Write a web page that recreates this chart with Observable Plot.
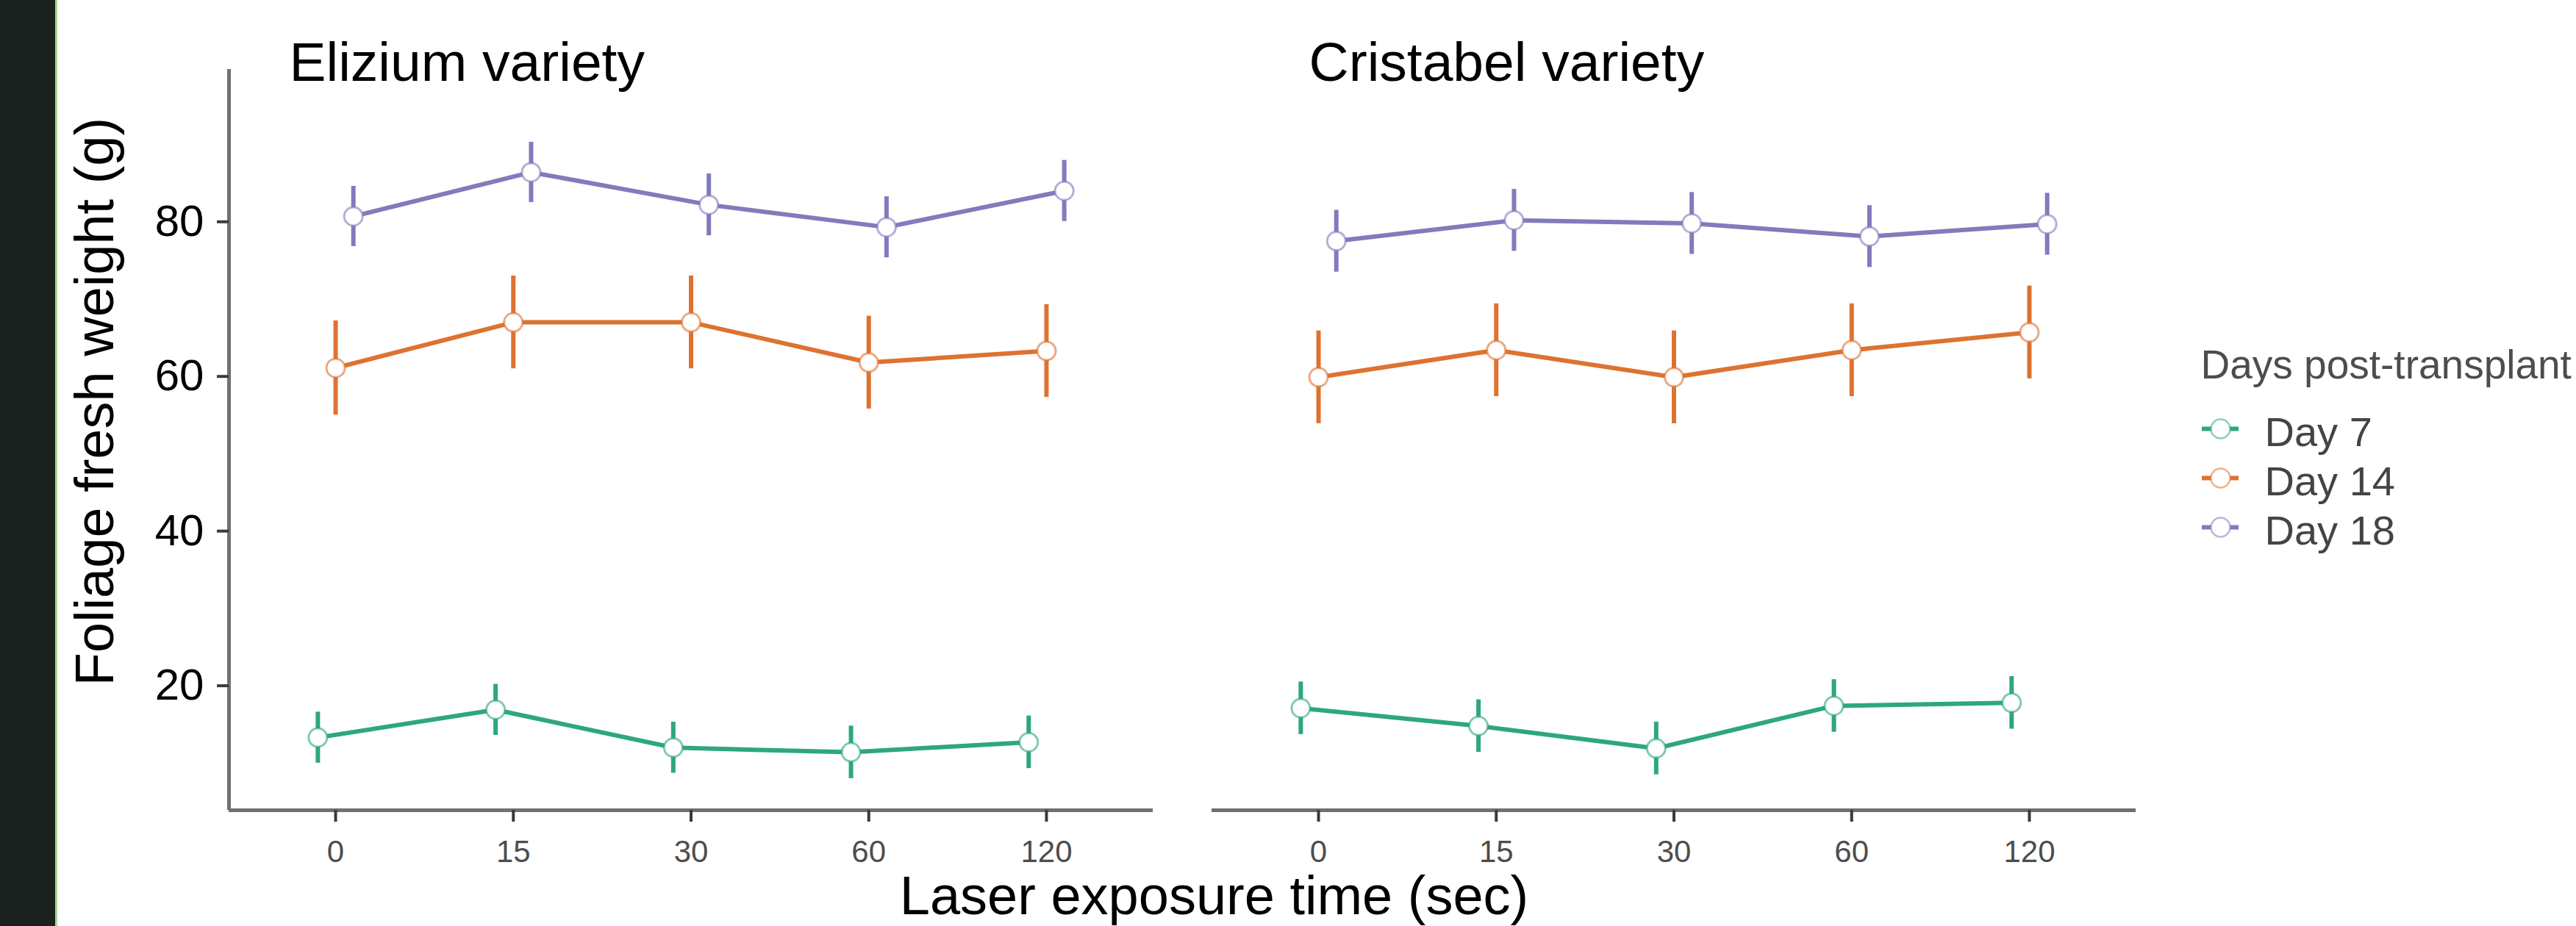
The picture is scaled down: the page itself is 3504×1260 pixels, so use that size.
<!DOCTYPE html>
<html>
<head>
<meta charset="utf-8">
<script src="https://cdn.jsdelivr.net/npm/d3@7"></script>
<script src="https://cdn.jsdelivr.net/npm/@observablehq/plot@0.6"></script>
<style>
  html, body { margin: 0; padding: 0; background: #ffffff; }
  #wrap { position: relative; width: 3504px; height: 1260px; overflow: hidden; background: #ffffff;
          font-family: "Liberation Sans", Arial, Helvetica, sans-serif; }
  #chart { position: absolute; left: 0; top: 0; }
  #legend { position: absolute; left: 2960px; top: 440px; }
  #strip { position: absolute; left: 0; top: 0; width: 75px; height: 1260px; background: #1b211e;
           border-right: 3px solid #a6d591; }
</style>
</head>
<body>
<div id="wrap">
  <div id="chart"></div>
  <div id="legend"></div>
  <div id="strip"></div>
</div>
<script>
// ---------- data ----------
const varieties = ["Elizium", "Cristabel"];
const panelTitles = ["Elizium variety", "Cristabel variety"];
const times = ["0", "15", "30", "60", "120"];
const days = ["Day 7", "Day 14", "Day 18"];
const dayColors = ["#2ea683", "#de7230", "#807cbc"];

const eliziumDay7 = [13.3, 16.9, 12.0, 11.4, 12.7];
const eliziumDay14 = [61.1, 67.0, 67.0, 61.8, 63.3];
const eliziumDay18 = [80.7, 86.4, 82.2, 79.3, 84.0];
const eliziumDay7SE = [3.3, 3.3, 3.3, 3.4, 3.4];
const eliziumDay14SE = [6.1, 6.0, 6.0, 6.0, 6.0];
const eliziumDay18SE = [3.9, 3.9, 4.0, 3.95, 3.95];

const cristabelDay7 = [17.1, 14.8, 11.9, 17.4, 17.8];
const cristabelDay14 = [59.9, 63.4, 59.9, 63.4, 65.7];
const cristabelDay18 = [77.5, 80.2, 79.8, 78.1, 79.7];
const cristabelDay7SE = [3.4, 3.4, 3.4, 3.4, 3.4];
const cristabelDay14SE = [6.0, 6.0, 6.0, 6.0, 6.0];
const cristabelDay18SE = [4.0, 4.0, 4.0, 4.0, 4.0];

const dodge = [-0.1, 0, 0.1];       // position_dodge offsets (in category units)
const xDomain = [-0.6, 4.6];        // discrete axis with 0.6 expansion
const yDomain = [3.9, 99.7];
const yTicks = [20, 40, 60, 80];

// ---------- table built from the arrays ----------
const series = [
  [varieties[0], days[0], eliziumDay7, eliziumDay7SE],
  [varieties[0], days[1], eliziumDay14, eliziumDay14SE],
  [varieties[0], days[2], eliziumDay18, eliziumDay18SE],
  [varieties[1], days[0], cristabelDay7, cristabelDay7SE],
  [varieties[1], days[1], cristabelDay14, cristabelDay14SE],
  [varieties[1], days[2], cristabelDay18, cristabelDay18SE]
];
const rows = [];
for (const [variety, day, means, ses] of series) {
  const di = days.indexOf(day);
  times.forEach((t, ti) => {
    rows.push({variety, day, time: t, xd: ti + dodge[di], mean: means[ti], lo: means[ti] - ses[ti], hi: means[ti] + ses[ti]});
  });
}

const FONT = '"Liberation Sans", Arial, Helvetica, sans-serif';

const chart = Plot.plot({
  width: 3504,
  height: 1260,
  marginLeft: 311,
  marginRight: 599,
  marginTop: 94,
  marginBottom: 158,
  style: {fontFamily: FONT, background: "transparent", overflow: "visible"},
  fx: {domain: varieties, paddingInner: 0.06, paddingOuter: 0, axis: null, label: null},
  x: {domain: xDomain, label: null},
  y: {domain: yDomain, label: null},
  color: {domain: days, range: dayColors},
  marks: [
    Plot.ruleY([yDomain[0]], {stroke: "#707070", strokeWidth: 5}),
    Plot.ruleX([xDomain[0]], {fx: [varieties[0]], stroke: "#707070", strokeWidth: 5}),
    Plot.axisY({ticks: yTicks, tickSize: 16, tickPadding: 18, stroke: "#3a3a3a", strokeWidth: 4,
                fill: "#000000", fontSize: 60, label: null}),
    Plot.axisX({ticks: times.map((t, i) => i), tickFormat: i => times[i], tickSize: 16, tickPadding: 25,
                stroke: "#3a3a3a", strokeWidth: 4, fill: "#4d4d4d", fontSize: 42, label: null}),
    Plot.ruleX(rows, {fx: "variety", x: "xd", y1: "lo", y2: "hi", stroke: "day", strokeWidth: 6}),
    Plot.line(rows, {fx: "variety", x: "xd", y: "mean", z: "day", stroke: "day", strokeWidth: 6}),
    Plot.dot(rows, {fx: "variety", x: "xd", y: "mean", r: 12.5, fill: "white", stroke: "day",
                    strokeWidth: 3, strokeOpacity: 0.6}),
    Plot.text([panelTitles[0]], {fx: [varieties[0]], text: d => d, frameAnchor: "top-left", textAnchor: "start",
                    lineAnchor: "bottom", dx: 82, dy: 15, fontSize: 75, fill: "#000000"}),
    Plot.text([panelTitles[1]], {fx: [varieties[1]], text: d => d, frameAnchor: "top-left", textAnchor: "start",
                    lineAnchor: "bottom", dx: 132, dy: 15, fontSize: 75, fill: "#000000"}),
    Plot.text(["Foliage fresh weight (g)"], {fx: [varieties[0]], text: d => d, frameAnchor: "left", rotate: -90,
                    textAnchor: "middle", lineAnchor: "middle", dx: -181, dy: -52, fontSize: 74, fill: "#000000"}),
    Plot.text(["Laser exposure time (sec)"], {fx: [varieties[0]], text: d => d, frameAnchor: "bottom-left",
                    textAnchor: "middle", lineAnchor: "bottom", dx: 1340, dy: 141, fontSize: 74, fill: "#000000"})
  ]
});
document.getElementById("chart").appendChild(chart);

const legend = Plot.plot({
  width: 544,
  height: 320,
  margin: 0,
  style: {fontFamily: FONT, background: "transparent", overflow: "visible"},
  x: {domain: [0, 1], range: [35, 85], axis: null},
  y: {type: "point", domain: days, range: [142, 277], padding: 0, axis: null},
  color: {domain: days, range: dayColors},
  marks: [
    Plot.ruleY(days, {y: d => d, x1: 0, x2: 1, stroke: d => d, strokeWidth: 6}),
    Plot.dot(days, {x: 0.5, y: d => d, r: 13, fill: "white", stroke: d => d, strokeWidth: 2.5, strokeOpacity: 0.55}),
    Plot.text(days, {x: 1, y: d => d, text: d => d, dx: 35, dy: 6, textAnchor: "start", fontSize: 56, fill: "#444444"}),
    Plot.text(["Days post-transplant"], {text: d => d, frameAnchor: "top-left", dx: 33, dy: 74, lineAnchor: "bottom",
                    textAnchor: "start", fontSize: 55, fill: "#4d4d4d"})
  ]
});
document.getElementById("legend").appendChild(legend);
</script>
</body>
</html>
